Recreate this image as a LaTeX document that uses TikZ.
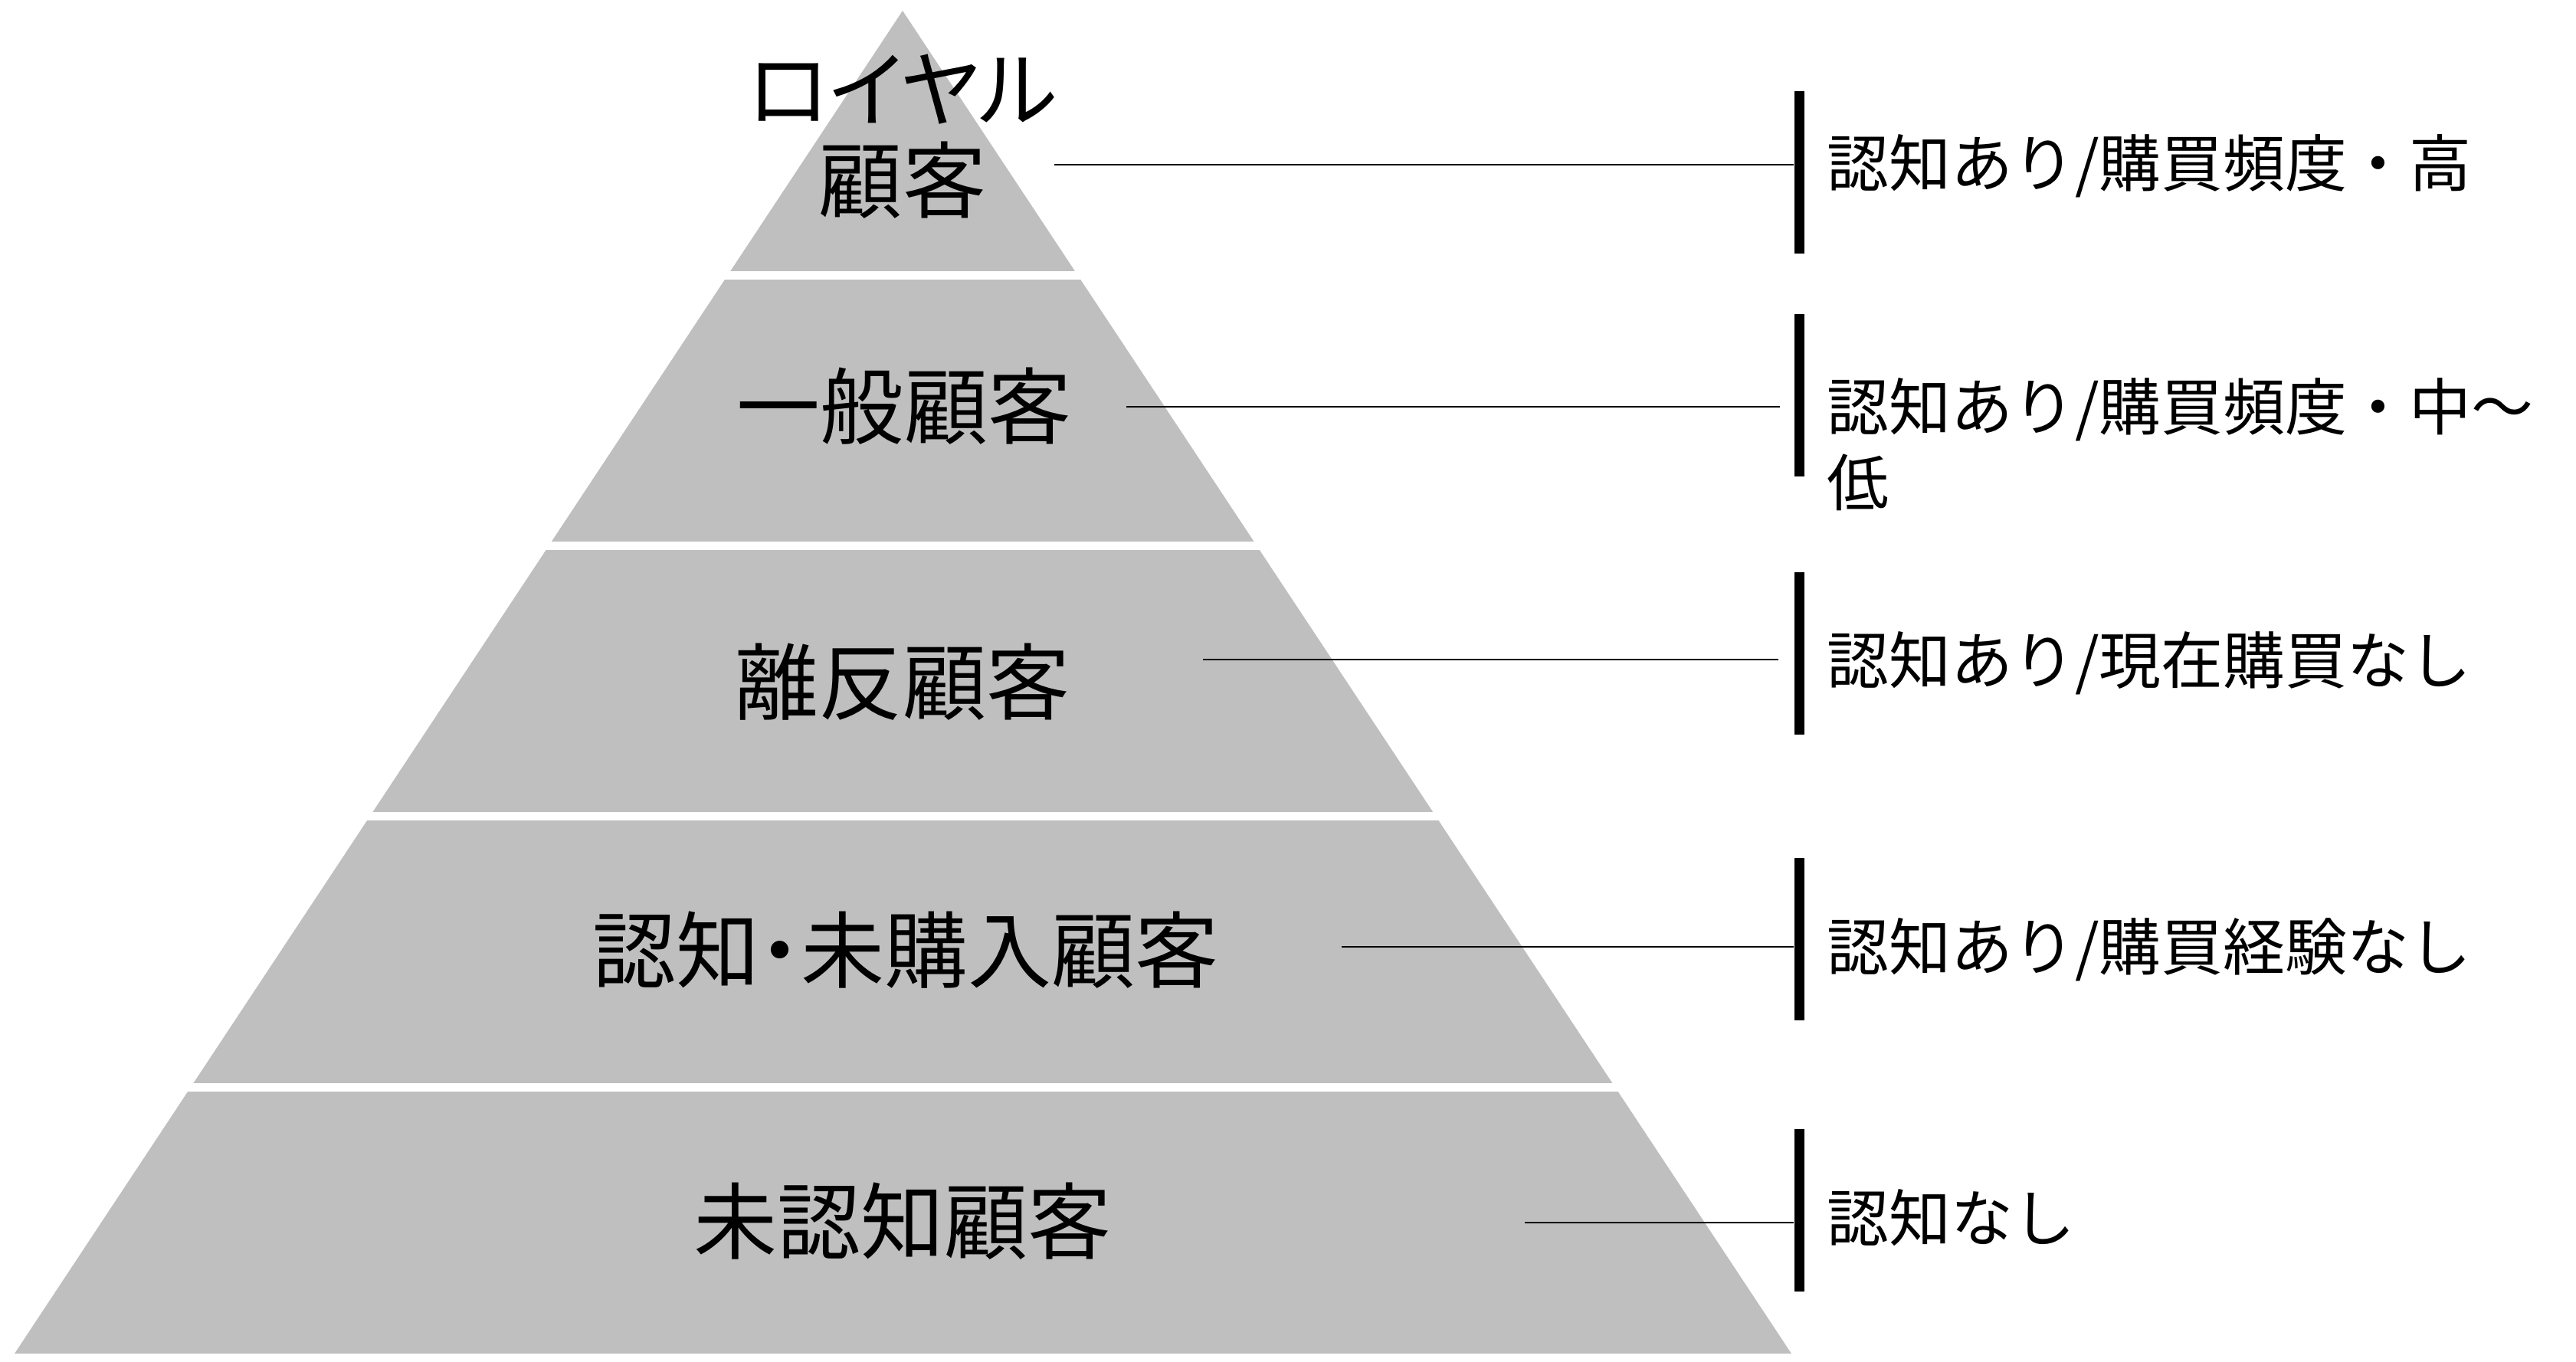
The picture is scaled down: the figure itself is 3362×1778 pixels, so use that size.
\documentclass[tikz,border=0pt]{standalone}
\usepackage{fontspec}
\setmainfont{Noto Sans CJK JP}
\newfontfamily\pyrfont[RawFeature=+palt]{Noto Sans CJK JP}
\definecolor{tiergray}{RGB}{191,191,191}
\tikzset{
  tierlabel/.style={font=\pyrfont\fontsize{31}{34}\selectfont,align=center,inner sep=0pt},
  bar/.style={fill=black,minimum width=0.13cm,minimum height=2.11cm,inner sep=0pt},
  desc/.style={font=\fontsize{23}{28}\selectfont,anchor=west,align=left,inner sep=0pt},
  leader/.style={line width=0.6pt},
}
\begin{document}
\begin{tikzpicture}[x=0.01cm,y=-0.01cm]
\useasboundingbox (0,0) rectangle (3362,1778);

\fill[tiergray] (1178,14) -- (2338,1767) -- (19,1767) -- cycle;
\foreach \y in {359,712,1065,1419}
  \draw[white,line width=0.11cm] (0,\y) -- (2400,\y);

\node[tierlabel] (royal) at (1178,178) {ロイヤル\\顧客};
\node[tierlabel] (ippan) at (1180,530) {一般顧客};
\node[tierlabel] (rihan) at (1178,890) {離反顧客};
\node[tierlabel] (mikounyu) at (1182,1240) {認知・未購入顧客};
\node[tierlabel] (runinchi) at (1178,1594) {未認知顧客};

\node[bar] (b1) at (2348,225) {};
\node[bar] (b2) at (2348,516) {};
\node[bar] (b3) at (2348,853) {};
\node[bar] (b4) at (2348,1226) {};
\node[bar] (b5) at (2348,1580) {};

\node[desc] (d1) at (2384,217) {認知あり/購買頻度・高};
\node[desc] (d2) at (2384,580) {認知あり/購買頻度・中～\\低};
\node[desc] (d3) at (2384,866) {認知あり/現在購買なし};
\node[desc] (d4) at (2384,1240) {認知あり/購買経験なし};
\node[desc] (d5) at (2384,1590) {認知なし};

\coordinate (s1) at (1376,215);
\coordinate (s2) at (1470,531);
\coordinate (s3) at (1570,861);
\coordinate (s4) at (1751,1236);
\coordinate (s5) at (1990,1596);
\draw[leader] (s1) -- (s1 -| b1.west);
\draw[leader,shorten >=0.18cm] (s2) -- (s2 -| b2.west);
\draw[leader,shorten >=0.2cm] (s3) -- (s3 -| b3.west);
\draw[leader] (s4) -- (s4 -| b4.west);
\draw[leader] (s5) -- (s5 -| b5.west);

\end{tikzpicture}
\end{document}
